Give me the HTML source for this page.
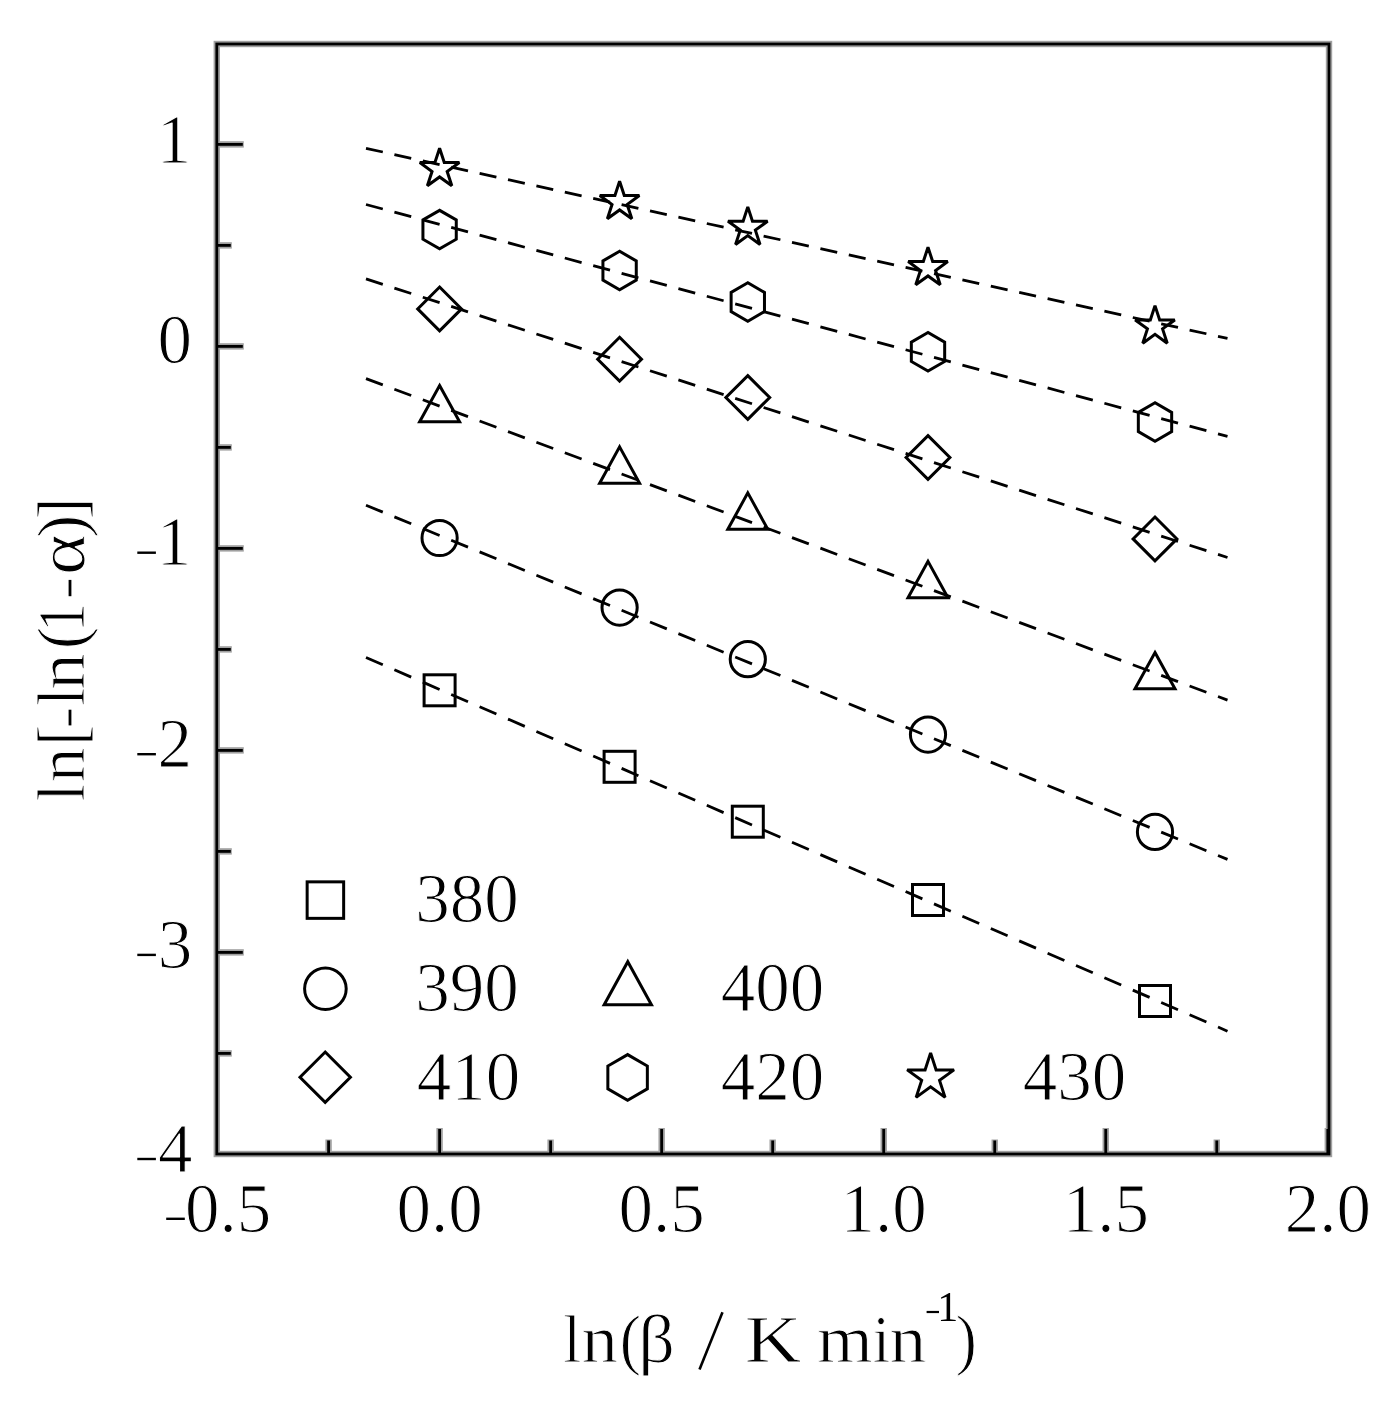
<!DOCTYPE html><html><head><meta charset="utf-8"><title>ln[-ln(1-a)] vs ln(beta)</title>
<style>html,body{margin:0;padding:0;background:#fff;width:1400px;height:1408px;overflow:hidden}svg{display:block}text{font-family:"Liberation Serif",serif;fill:#000}.e{stroke:#fff;stroke-width:1.1px;stroke-linejoin:round}.t{stroke:#fff;stroke-width:1.0px;stroke-linejoin:round}svg{filter:grayscale(1)}</style></head><body>
<svg width="1400" height="1408" viewBox="0 0 1400 1408">
<rect width="1400" height="1408" fill="#fff"/>
<line x1="366.0" y1="148.3" x2="1227.5" y2="338.4" stroke="#000" stroke-width="2.8" pathLength="861.5" stroke-dasharray="16.8 11.6"/>
<line x1="366.0" y1="204.5" x2="1227.5" y2="436.4" stroke="#000" stroke-width="2.8" pathLength="861.5" stroke-dasharray="16.8 11.6"/>
<line x1="366.0" y1="278.9" x2="1227.5" y2="557.5" stroke="#000" stroke-width="2.8" pathLength="861.5" stroke-dasharray="16.8 11.6"/>
<line x1="366.0" y1="378.6" x2="1227.5" y2="700.1" stroke="#000" stroke-width="2.8" pathLength="861.5" stroke-dasharray="16.8 11.6"/>
<line x1="366.0" y1="505.2" x2="1227.5" y2="859.4" stroke="#000" stroke-width="2.8" pathLength="861.5" stroke-dasharray="16.8 11.6"/>
<line x1="366.0" y1="657.5" x2="1227.5" y2="1031.2" stroke="#000" stroke-width="2.8" pathLength="861.5" stroke-dasharray="16.8 11.6"/>
<polygon points="439.60,148.20 444.27,162.57 459.38,162.57 447.16,171.46 451.83,185.83 439.60,176.95 427.37,185.83 432.04,171.46 419.82,162.57 434.93,162.57" fill="none" stroke="#000" stroke-width="3.0" stroke-linejoin="miter" stroke-miterlimit="2.2"/>
<polygon points="439.60,210.35 422.93,219.97 422.93,239.22 439.60,248.85 456.27,239.22 456.27,219.97" fill="none" stroke="#000" stroke-width="3.0" stroke-linejoin="miter" stroke-miterlimit="2.2"/>
<polygon points="439.60,287.00 461.50,308.90 439.60,330.80 417.70,308.90" fill="none" stroke="#000" stroke-width="3.0" stroke-linejoin="miter" stroke-miterlimit="2.2"/>
<polygon points="439.60,385.50 459.58,421.86 419.62,421.86" fill="none" stroke="#000" stroke-width="3.0" stroke-linejoin="miter" stroke-miterlimit="2.2"/>
<circle cx="439.60" cy="538.00" r="17.60" fill="none" stroke="#000" stroke-width="3.0"/>
<rect x="424.10" y="674.80" width="31.00" height="31.00" fill="none" stroke="#000" stroke-width="3.0"/>
<polygon points="619.60,181.20 624.27,195.57 639.38,195.57 627.16,204.46 631.83,218.83 619.60,209.95 607.37,218.83 612.04,204.46 599.82,195.57 614.93,195.57" fill="none" stroke="#000" stroke-width="3.0" stroke-linejoin="miter" stroke-miterlimit="2.2"/>
<polygon points="619.60,251.25 602.93,260.88 602.93,280.12 619.60,289.75 636.27,280.12 636.27,260.88" fill="none" stroke="#000" stroke-width="3.0" stroke-linejoin="miter" stroke-miterlimit="2.2"/>
<polygon points="619.60,337.30 641.50,359.20 619.60,381.10 597.70,359.20" fill="none" stroke="#000" stroke-width="3.0" stroke-linejoin="miter" stroke-miterlimit="2.2"/>
<polygon points="619.60,446.90 639.58,483.26 599.62,483.26" fill="none" stroke="#000" stroke-width="3.0" stroke-linejoin="miter" stroke-miterlimit="2.2"/>
<circle cx="619.60" cy="607.60" r="17.60" fill="none" stroke="#000" stroke-width="3.0"/>
<rect x="604.10" y="751.30" width="31.00" height="31.00" fill="none" stroke="#000" stroke-width="3.0"/>
<polygon points="747.80,206.90 752.47,221.27 767.58,221.27 755.36,230.16 760.03,244.53 747.80,235.65 735.57,244.53 740.24,230.16 728.02,221.27 743.13,221.27" fill="none" stroke="#000" stroke-width="3.0" stroke-linejoin="miter" stroke-miterlimit="2.2"/>
<polygon points="747.80,282.75 731.13,292.38 731.13,311.62 747.80,321.25 764.47,311.62 764.47,292.38" fill="none" stroke="#000" stroke-width="3.0" stroke-linejoin="miter" stroke-miterlimit="2.2"/>
<polygon points="747.80,375.60 769.70,397.50 747.80,419.40 725.90,397.50" fill="none" stroke="#000" stroke-width="3.0" stroke-linejoin="miter" stroke-miterlimit="2.2"/>
<polygon points="747.80,492.90 767.78,529.26 727.82,529.26" fill="none" stroke="#000" stroke-width="3.0" stroke-linejoin="miter" stroke-miterlimit="2.2"/>
<circle cx="747.80" cy="659.20" r="17.60" fill="none" stroke="#000" stroke-width="3.0"/>
<rect x="732.30" y="806.20" width="31.00" height="31.00" fill="none" stroke="#000" stroke-width="3.0"/>
<polygon points="928.00,247.20 932.67,261.57 947.78,261.57 935.56,270.46 940.23,284.83 928.00,275.95 915.77,284.83 920.44,270.46 908.22,261.57 923.33,261.57" fill="none" stroke="#000" stroke-width="3.0" stroke-linejoin="miter" stroke-miterlimit="2.2"/>
<polygon points="928.00,332.55 911.33,342.18 911.33,361.43 928.00,371.05 944.67,361.43 944.67,342.18" fill="none" stroke="#000" stroke-width="3.0" stroke-linejoin="miter" stroke-miterlimit="2.2"/>
<polygon points="928.00,435.60 949.90,457.50 928.00,479.40 906.10,457.50" fill="none" stroke="#000" stroke-width="3.0" stroke-linejoin="miter" stroke-miterlimit="2.2"/>
<polygon points="928.00,561.40 947.98,597.76 908.02,597.76" fill="none" stroke="#000" stroke-width="3.0" stroke-linejoin="miter" stroke-miterlimit="2.2"/>
<circle cx="928.00" cy="734.60" r="17.60" fill="none" stroke="#000" stroke-width="3.0"/>
<rect x="912.50" y="884.50" width="31.00" height="31.00" fill="none" stroke="#000" stroke-width="3.0"/>
<polygon points="1155.00,305.60 1159.67,319.97 1174.78,319.97 1162.56,328.86 1167.23,343.23 1155.00,334.35 1142.77,343.23 1147.44,328.86 1135.22,319.97 1150.33,319.97" fill="none" stroke="#000" stroke-width="3.0" stroke-linejoin="miter" stroke-miterlimit="2.2"/>
<polygon points="1155.00,402.75 1138.33,412.38 1138.33,431.62 1155.00,441.25 1171.67,431.62 1171.67,412.38" fill="none" stroke="#000" stroke-width="3.0" stroke-linejoin="miter" stroke-miterlimit="2.2"/>
<polygon points="1155.00,517.00 1176.90,538.90 1155.00,560.80 1133.10,538.90" fill="none" stroke="#000" stroke-width="3.0" stroke-linejoin="miter" stroke-miterlimit="2.2"/>
<polygon points="1155.00,652.50 1174.98,688.86 1135.02,688.86" fill="none" stroke="#000" stroke-width="3.0" stroke-linejoin="miter" stroke-miterlimit="2.2"/>
<circle cx="1155.00" cy="831.90" r="17.60" fill="none" stroke="#000" stroke-width="3.0"/>
<rect x="1139.50" y="985.50" width="31.00" height="31.00" fill="none" stroke="#000" stroke-width="3.0"/>
<g><rect x="216.8" y="44.0" width="1112.2" height="1110.0" fill="none" stroke="#a0a0a0" stroke-width="6.4"/><line x1="216.8" y1="1053.40" x2="231.80" y2="1053.40" stroke="#a0a0a0" stroke-width="6.4"/><line x1="216.8" y1="952.40" x2="243.80" y2="952.40" stroke="#a0a0a0" stroke-width="6.4"/><line x1="216.8" y1="851.40" x2="231.80" y2="851.40" stroke="#a0a0a0" stroke-width="6.4"/><line x1="216.8" y1="750.40" x2="243.80" y2="750.40" stroke="#a0a0a0" stroke-width="6.4"/><line x1="216.8" y1="649.40" x2="231.80" y2="649.40" stroke="#a0a0a0" stroke-width="6.4"/><line x1="216.8" y1="548.40" x2="243.80" y2="548.40" stroke="#a0a0a0" stroke-width="6.4"/><line x1="216.8" y1="447.40" x2="231.80" y2="447.40" stroke="#a0a0a0" stroke-width="6.4"/><line x1="216.8" y1="346.40" x2="243.80" y2="346.40" stroke="#a0a0a0" stroke-width="6.4"/><line x1="216.8" y1="245.40" x2="231.80" y2="245.40" stroke="#a0a0a0" stroke-width="6.4"/><line x1="216.8" y1="144.40" x2="243.80" y2="144.40" stroke="#a0a0a0" stroke-width="6.4"/><line x1="328.58" y1="1154.0" x2="328.58" y2="1139.50" stroke="#a0a0a0" stroke-width="6.4"/><line x1="439.60" y1="1154.0" x2="439.60" y2="1128.00" stroke="#a0a0a0" stroke-width="6.4"/><line x1="550.62" y1="1154.0" x2="550.62" y2="1139.50" stroke="#a0a0a0" stroke-width="6.4"/><line x1="661.65" y1="1154.0" x2="661.65" y2="1128.00" stroke="#a0a0a0" stroke-width="6.4"/><line x1="772.68" y1="1154.0" x2="772.68" y2="1139.50" stroke="#a0a0a0" stroke-width="6.4"/><line x1="883.70" y1="1154.0" x2="883.70" y2="1128.00" stroke="#a0a0a0" stroke-width="6.4"/><line x1="994.73" y1="1154.0" x2="994.73" y2="1139.50" stroke="#a0a0a0" stroke-width="6.4"/><line x1="1105.75" y1="1154.0" x2="1105.75" y2="1128.00" stroke="#a0a0a0" stroke-width="6.4"/><line x1="1216.78" y1="1154.0" x2="1216.78" y2="1139.50" stroke="#a0a0a0" stroke-width="6.4"/><line x1="1327.80" y1="1154.0" x2="1327.80" y2="1128.00" stroke="#a0a0a0" stroke-width="6.4"/></g>
<g><rect x="216.8" y="44.0" width="1112.2" height="1110.0" fill="none" stroke="#000" stroke-width="2.8"/><line x1="216.8" y1="1053.40" x2="230.80" y2="1053.40" stroke="#000" stroke-width="2.8"/><line x1="216.8" y1="952.40" x2="242.80" y2="952.40" stroke="#000" stroke-width="2.8"/><line x1="216.8" y1="851.40" x2="230.80" y2="851.40" stroke="#000" stroke-width="2.8"/><line x1="216.8" y1="750.40" x2="242.80" y2="750.40" stroke="#000" stroke-width="2.8"/><line x1="216.8" y1="649.40" x2="230.80" y2="649.40" stroke="#000" stroke-width="2.8"/><line x1="216.8" y1="548.40" x2="242.80" y2="548.40" stroke="#000" stroke-width="2.8"/><line x1="216.8" y1="447.40" x2="230.80" y2="447.40" stroke="#000" stroke-width="2.8"/><line x1="216.8" y1="346.40" x2="242.80" y2="346.40" stroke="#000" stroke-width="2.8"/><line x1="216.8" y1="245.40" x2="230.80" y2="245.40" stroke="#000" stroke-width="2.8"/><line x1="216.8" y1="144.40" x2="242.80" y2="144.40" stroke="#000" stroke-width="2.8"/><line x1="328.58" y1="1154.0" x2="328.58" y2="1140.50" stroke="#000" stroke-width="2.8"/><line x1="439.60" y1="1154.0" x2="439.60" y2="1129.00" stroke="#000" stroke-width="2.8"/><line x1="550.62" y1="1154.0" x2="550.62" y2="1140.50" stroke="#000" stroke-width="2.8"/><line x1="661.65" y1="1154.0" x2="661.65" y2="1129.00" stroke="#000" stroke-width="2.8"/><line x1="772.68" y1="1154.0" x2="772.68" y2="1140.50" stroke="#000" stroke-width="2.8"/><line x1="883.70" y1="1154.0" x2="883.70" y2="1129.00" stroke="#000" stroke-width="2.8"/><line x1="994.73" y1="1154.0" x2="994.73" y2="1140.50" stroke="#000" stroke-width="2.8"/><line x1="1105.75" y1="1154.0" x2="1105.75" y2="1129.00" stroke="#000" stroke-width="2.8"/><line x1="1216.78" y1="1154.0" x2="1216.78" y2="1140.50" stroke="#000" stroke-width="2.8"/><line x1="1327.80" y1="1154.0" x2="1327.80" y2="1129.00" stroke="#000" stroke-width="2.8"/></g>
<text class="e" x="156.8" y="162.9" font-size="69">1</text>
<text class="e" x="157.5" y="363.1" font-size="69">0</text>
<text class="e" x="156.8" y="565.4" font-size="69">1</text>
<rect x="137.3" y="551.5" width="18.6" height="2.4" fill="#000"/>
<text class="e" x="157.5" y="766.9" font-size="69">2</text>
<rect x="137.3" y="753.0" width="18.6" height="2.4" fill="#000"/>
<text class="e" x="157.7" y="967.6" font-size="69">3</text>
<rect x="137.3" y="953.7" width="18.6" height="2.4" fill="#000"/>
<text class="e" x="158.0" y="1171.7" font-size="69">4</text>
<rect x="137.3" y="1157.8" width="18.6" height="2.4" fill="#000"/>
<text class="e" x="439.6" y="1231.8" font-size="69" text-anchor="middle">0.0</text>
<text class="e" x="661.7" y="1231.8" font-size="69" text-anchor="middle">0.5</text>
<text class="e" x="883.7" y="1231.8" font-size="69" text-anchor="middle">1.0</text>
<text class="e" x="1105.8" y="1231.8" font-size="69" text-anchor="middle">1.5</text>
<text class="e" x="1327.8" y="1231.8" font-size="69" text-anchor="middle">2.0</text>
<text class="e" x="184.9" y="1231.8" font-size="69">0.5</text>
<rect x="166.2" y="1217.6" width="18.6" height="2.4" fill="#000"/>
<text class="t" x="563.08" y="1361.6" font-size="68" textLength="18.34" lengthAdjust="spacingAndGlyphs">l</text>
<text class="t" x="581.63" y="1361.6" font-size="68" textLength="36.47" lengthAdjust="spacingAndGlyphs">n</text>
<text class="t" x="619.80" y="1361.6" font-size="68" textLength="21.26" lengthAdjust="spacingAndGlyphs">(</text>
<text class="t" x="638.34" y="1361.6" font-size="68" textLength="36.72" lengthAdjust="spacingAndGlyphs">&#946;</text>
<text class="t" x="744.84" y="1361.6" font-size="68" textLength="56.67" lengthAdjust="spacingAndGlyphs">K</text>
<text class="t" x="817.30" y="1361.6" font-size="68" textLength="55.51" lengthAdjust="spacingAndGlyphs">m</text>
<text class="t" x="872.68" y="1361.6" font-size="68" textLength="17.41" lengthAdjust="spacingAndGlyphs">i</text>
<text class="t" x="889.51" y="1361.6" font-size="68" textLength="36.80" lengthAdjust="spacingAndGlyphs">n</text>
<line x1="699.5" y1="1369.5" x2="722.5" y2="1312.2" stroke="#000" stroke-width="2.6"/>
<text x="937.3" y="1320.7" font-size="42">1</text>
<rect x="926.6" y="1310.9" width="12.4" height="2.2" fill="#000"/>
<text class="t" x="955.86" y="1361.6" font-size="68" textLength="21.06" lengthAdjust="spacingAndGlyphs">)</text>
<g transform="translate(84.0,800) rotate(-90)">
<text class="t" x="-1.24" y="0" font-size="67" textLength="17.29" lengthAdjust="spacingAndGlyphs">l</text>
<text class="t" x="17.81" y="0" font-size="67" textLength="34.74" lengthAdjust="spacingAndGlyphs">n</text>
<text class="t" x="54.30" y="0" font-size="67" textLength="21.08" lengthAdjust="spacingAndGlyphs">[</text>
<text class="t" x="94.08" y="0" font-size="67" textLength="18.34" lengthAdjust="spacingAndGlyphs">l</text>
<text class="t" x="110.33" y="0" font-size="67" textLength="36.47" lengthAdjust="spacingAndGlyphs">n</text>
<text class="t" x="150.74" y="0" font-size="67" textLength="22.42" lengthAdjust="spacingAndGlyphs">(</text>
<text class="t" x="167.88" y="0" font-size="67" textLength="29.12" lengthAdjust="spacingAndGlyphs">1</text>
<text class="t" x="225.04" y="0" font-size="67" textLength="40.70" lengthAdjust="spacingAndGlyphs">&#945;</text>
<text class="t" x="261.93" y="0" font-size="67" textLength="23.46" lengthAdjust="spacingAndGlyphs">)</text>
<text class="t" x="280.63" y="0" font-size="67" textLength="21.83" lengthAdjust="spacingAndGlyphs">]</text>
</g>
<rect x="68.6" y="709.7" width="2.8" height="15.7" fill="#000"/>
<rect x="68.6" y="579.9" width="2.8" height="16.3" fill="#000"/>
<rect x="307.15" y="881.85" width="36.50" height="36.50" fill="none" stroke="#000" stroke-width="3.0"/>
<circle cx="325.40" cy="988.80" r="20.80" fill="none" stroke="#000" stroke-width="3.0"/>
<polygon points="325.20,1052.00 350.40,1077.20 325.20,1102.40 300.00,1077.20" fill="none" stroke="#000" stroke-width="3.0" stroke-linejoin="miter" stroke-miterlimit="2.2"/>
<polygon points="627.80,961.70 651.44,1004.73 604.16,1004.73" fill="none" stroke="#000" stroke-width="3.0" stroke-linejoin="miter" stroke-miterlimit="2.2"/>
<polygon points="627.60,1054.60 607.85,1066.00 607.85,1088.80 627.60,1100.20 647.35,1088.80 647.35,1066.00" fill="none" stroke="#000" stroke-width="3.0" stroke-linejoin="miter" stroke-miterlimit="2.2"/>
<polygon points="930.60,1052.90 936.12,1069.90 954.00,1069.90 939.54,1080.40 945.06,1097.40 930.60,1086.90 916.14,1097.40 921.66,1080.40 907.20,1069.90 925.08,1069.90" fill="none" stroke="#000" stroke-width="3.0" stroke-linejoin="miter" stroke-miterlimit="2.2"/>
<text class="e" x="415.3" y="921.6" font-size="69">380</text>
<text class="e" x="415.3" y="1011" font-size="69">390</text>
<text class="e" x="416.8" y="1100.3" font-size="69">410</text>
<text class="e" x="720.8" y="1011" font-size="69">400</text>
<text class="e" x="720.8" y="1100.3" font-size="69">420</text>
<text class="e" x="1022.8" y="1100.3" font-size="69">430</text>
</svg></body></html>
